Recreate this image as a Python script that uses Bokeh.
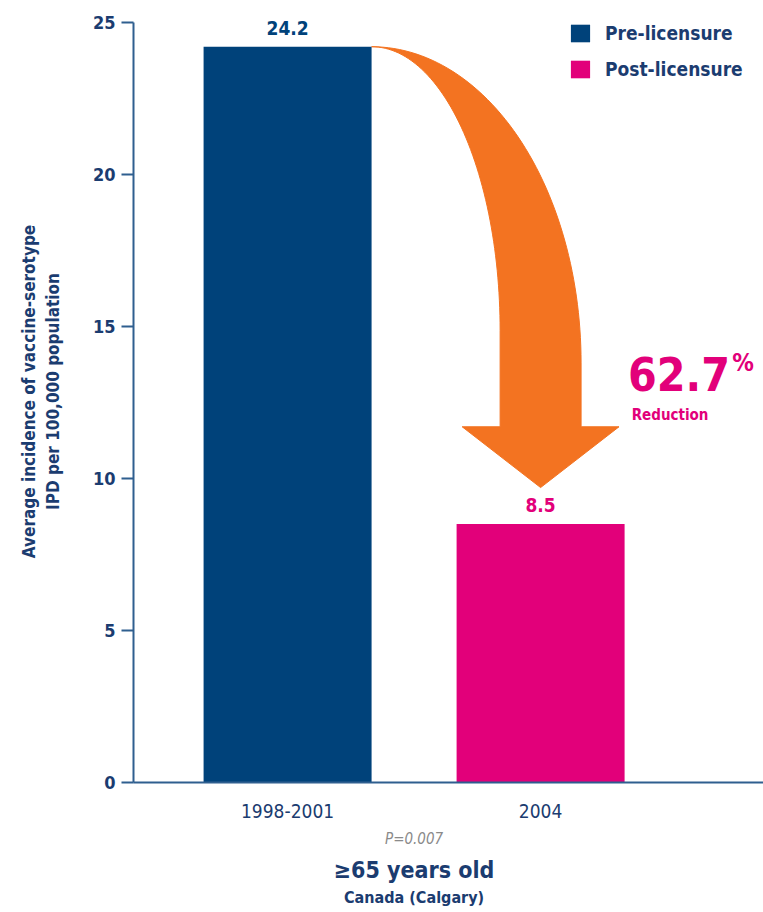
import numpy as np
from bokeh.plotting import figure
from bokeh.models import (Range1d, FixedTicker, Legend, LegendItem, Label,
                          LabelSet, ColumnDataSource, LinearAxis)
from bokeh.core.properties import value
from bokeh.embed import file_html
from bokeh.resources import INLINE

# ---- data ----
categories = ["1998-2001", "2004"]
series = ["Pre-licensure", "Post-licensure"]
values = [24.2, 8.5]
reduction_pct = 62.7
p_value = "0.007"
y_ticks = [0, 5, 10, 15, 20, 25]
group_label = "\u226565 years old"
place_label = "Canada (Calgary)"

# ---- style ----
FONT = "DejaVu Sans Condensed"
NAVY = "#00427a"
PINK = "#e2007a"
ORANGE = "#f37321"
AXIS = "#2f5f8f"
TXT = "#1b3c70"
colors = [NAVY, PINK]
BAR_W = 0.664

p = figure(width=763, height=912,
           x_range=Range1d(-0.109, 2.381), y_range=Range1d(0, 25.72),
           output_backend="svg", toolbar_location=None,
           min_border_left=133, min_border_right=0,
           min_border_top=0, min_border_bottom=130)
p.xgrid.visible = False
p.ygrid.visible = False
p.outline_line_color = None
p.background_fill_color = "white"
p.border_fill_color = "white"

xs = [i + 0.5 for i in range(len(categories))]
src = ColumnDataSource(dict(x=xs, top=values, color=colors, label=series,
                            text=[f"{v:.1f}" for v in values]))

# ---- curved arrow from first bar to second bar ----
pre, post = values[0], values[1]
x0 = xs[0] + BAR_W / 2
xc = xs[1]
shaft = 0.16
head = 0.31
tip_y = post + 1.2
base_y = tip_y + 2.0
ly_c, ry_c = 14.87, 13.8
t = np.linspace(np.pi / 2, 0, 60)
ra, rb = (xc + shaft) - x0, pre - ry_c
rx = x0 + ra * np.cos(t)
ry = ry_c + rb * np.sin(t)
la, lb = (xc - shaft) - x0, pre - ly_c
lx = x0 + la * np.cos(t)
ly = ly_c + lb * np.sin(t)
ax = list(rx) + [xc + shaft, xc + head, xc, xc - head, xc - shaft] + list(lx[::-1])
ay = list(ry) + [base_y, base_y, tip_y, base_y, base_y] + list(ly[::-1])
p.patch(ax, ay, fill_color=ORANGE, line_color=ORANGE, line_width=1)

# ---- bars ----
r = p.vbar(x="x", top="top", width=BAR_W, fill_color="color", line_color=None,
           source=src)

labels = LabelSet(x="x", y="top", text="text", source=src, text_align="center",
                  text_baseline="bottom", y_offset=12, text_color="color",
                  text_font=value(FONT), text_font_style="bold",
                  text_font_size="19px")
p.add_layout(labels)

# ---- legend ----
legend = Legend(items=[LegendItem(label=series[i], renderers=[r], index=i)
                       for i in range(len(series))],
                location=(435, 702), orientation="vertical",
                glyph_width=24, glyph_height=22, spacing=14, label_standoff=13,
                padding=0, margin=0, background_fill_alpha=0,
                border_line_color=None, label_text_font=FONT,
                label_text_font_style="bold", label_text_font_size="19px",
                label_text_color=TXT)
p.add_layout(legend)

# ---- axes ----
ya = p.yaxis[0]
ya.ticker = FixedTicker(ticks=y_ticks)
ya.bounds = (0, 25)
ya.axis_line_color = AXIS
ya.axis_line_width = 2
ya.major_tick_line_color = AXIS
ya.major_tick_line_width = 2
ya.major_tick_out = 12
ya.major_tick_in = 0
ya.minor_tick_line_color = None
ya.major_label_standoff = 6
ya.major_label_text_font = FONT
ya.major_label_text_font_style = "bold"
ya.major_label_text_font_size = "18px"
ya.major_label_text_color = TXT
ya.axis_label = "Average incidence of vaccine-serotype\nIPD per 100,000 population"
ya.axis_label_text_font = FONT
ya.axis_label_text_font_style = "bold"
ya.axis_label_text_font_size = "17px"
ya.axis_label_text_color = TXT
ya.axis_label_standoff = 27

xa = p.xaxis[0]
xa.ticker = FixedTicker(ticks=xs)
xa.major_label_overrides = {x: c for x, c in zip(xs, categories)}
xa.axis_line_color = AXIS
xa.axis_line_width = 2
xa.major_tick_line_color = None
xa.major_tick_out = 0
xa.major_tick_in = 0
xa.minor_tick_line_color = None
xa.major_label_standoff = 21
xa.major_label_text_font = FONT
xa.major_label_text_font_size = "19px"
xa.major_label_text_color = TXT

# ---- footnote rows as extra label-only axes centred between the bars ----
mid = (xs[0] + xs[1]) / 2


def note_axis(text, size, style, color, standoff):
    a = LinearAxis(ticker=FixedTicker(ticks=[mid]),
                   major_label_overrides={mid: text})
    a.axis_line_color = None
    a.major_tick_line_color = None
    a.minor_tick_line_color = None
    a.major_tick_out = 0
    a.major_tick_in = 0
    a.major_label_standoff = standoff
    a.major_label_text_font = FONT
    a.major_label_text_font_size = size
    a.major_label_text_font_style = style
    a.major_label_text_color = color
    p.add_layout(a, "below")


note_axis(f"P={p_value}", "15px", "italic", "#8a8a8a", 9)
note_axis(group_label, "23px", "bold", TXT, 6)
note_axis(place_label, "16px", "bold", TXT, 2)

# ---- reduction annotation ----
p.add_layout(Label(x=xc + head + 0.035, y=13.45, text=f"{reduction_pct}",
                   text_font=FONT, text_font_style="bold", text_font_size="46px",
                   text_color=PINK, text_baseline="middle", text_align="left"))
p.add_layout(Label(x=2.30, y=13.8, text="%", text_font=FONT,
                   text_font_style="bold", text_font_size="24px",
                   text_color=PINK, text_baseline="middle", text_align="center"))
p.add_layout(Label(x=xc + head + 0.05, y=12.1, text="Reduction", text_font=FONT,
                   text_font_style="bold", text_font_size="15px",
                   text_color=PINK, text_baseline="middle", text_align="left"))

open("out.html", "w").write(file_html(p, INLINE))
